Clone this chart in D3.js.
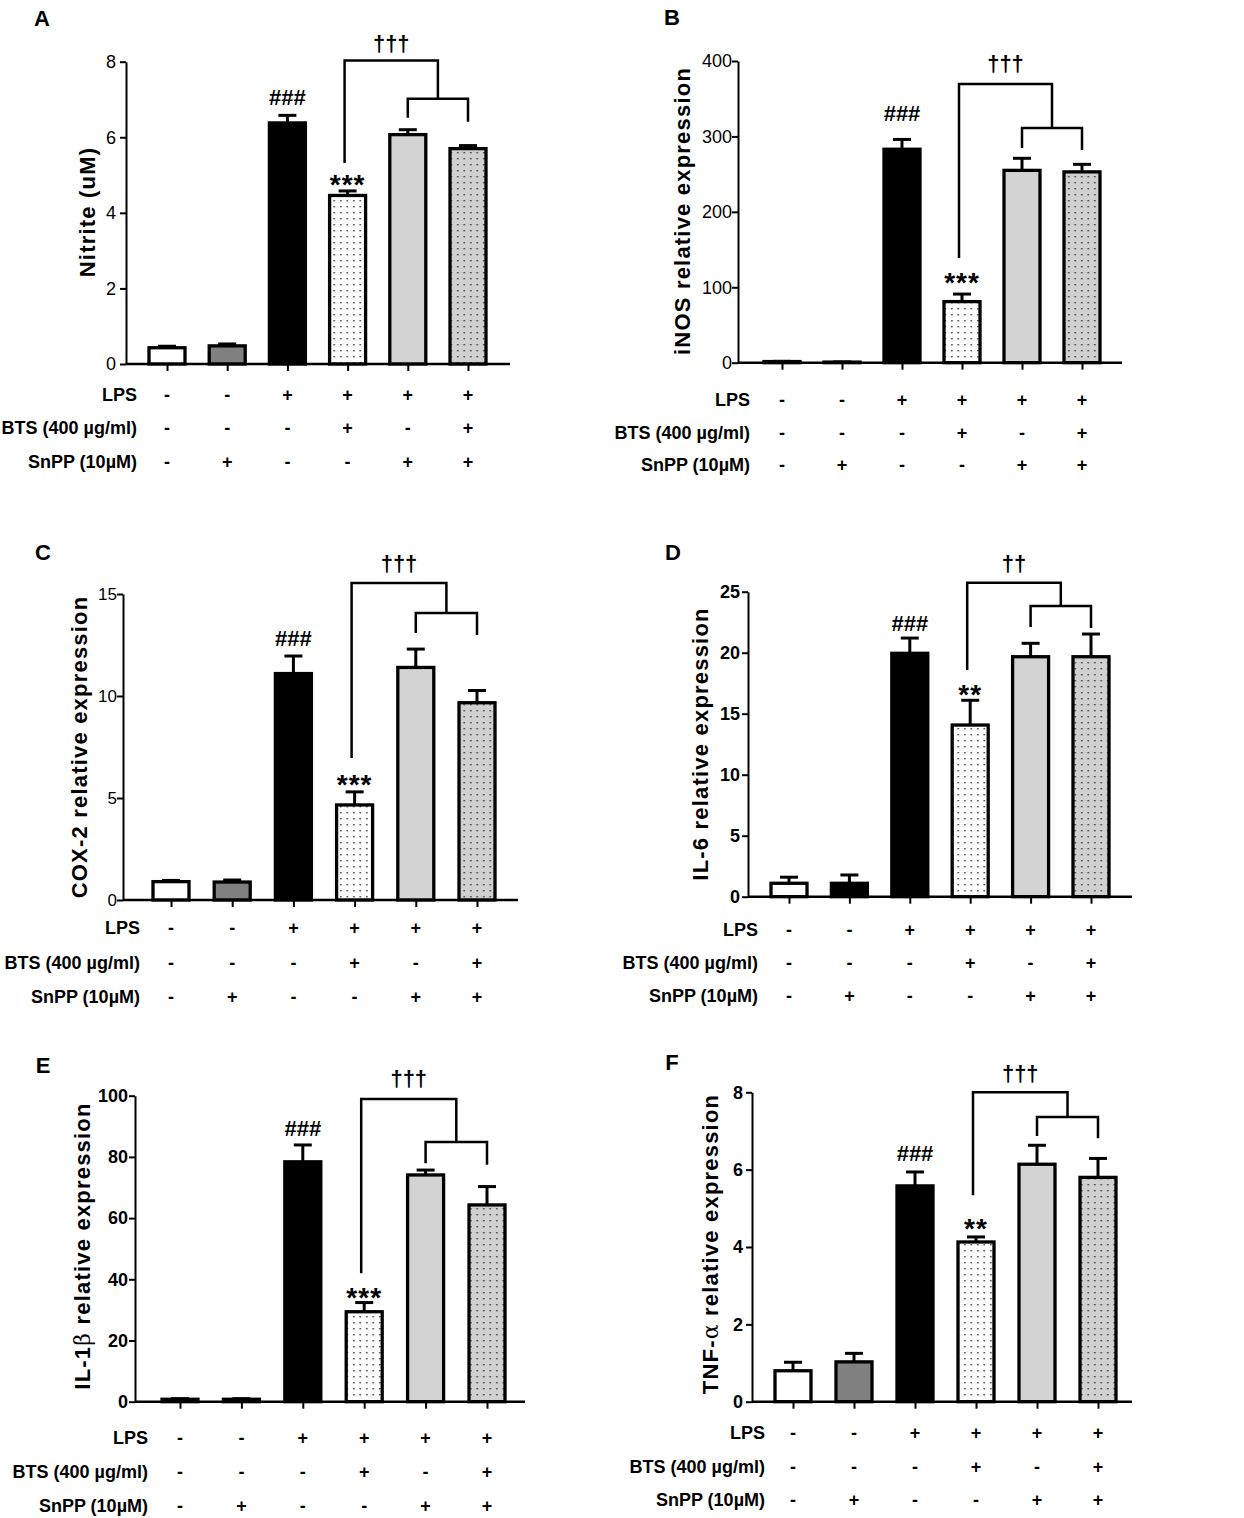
<!DOCTYPE html>
<html>
<head>
<meta charset="utf-8">
<script src="https://cdn.jsdelivr.net/npm/d3@7"></script>
<style>
  body { margin: 0; background: #fff; }
  text { font-family: "Liberation Sans", Arial, sans-serif; fill: #000; }
  .row { font-weight: bold; font-size: 18px; }
</style>
</head>
<body>
<div class="chart"></div>
<script>
// treatment groups (one bar each)
var groups = ["Control", "SnPP", "LPS", "LPS+BTS", "LPS+SnPP", "LPS+BTS+SnPP"];
var rowLabels = ["LPS", "BTS (400 µg/ml)", "SnPP (10µM)"];
var lpsRow = ["-", "-", "+", "+", "+", "+"];
var btsRow = ["-", "-", "-", "+", "-", "+"];
var snppRow = ["-", "+", "-", "-", "+", "+"];

// means and SEM
var nitriteMean = [0.43, 0.48, 6.38, 4.46, 6.07, 5.70];
var nitriteSem = [0.04, 0.05, 0.20, 0.12, 0.13, 0.08];
var inosMean = [1.5, 0.8, 283, 81, 255, 253];
var inosSem = [0.3, 0.2, 13, 10, 16, 10];
var cox2Mean = [0.90, 0.88, 11.1, 4.66, 11.4, 9.67];
var cox2Sem = [0.06, 0.10, 0.86, 0.64, 0.90, 0.60];
var il6Mean = [1.1, 1.1, 19.95, 14.07, 19.67, 19.67];
var il6Sem = [0.5, 0.68, 1.25, 2.03, 1.10, 1.86];
var il1bMean = [0.8, 0.8, 78.4, 29.4, 74.1, 64.3];
var il1bSem = [0.2, 0.2, 5.5, 3.0, 1.6, 6.0];
var tnfMean = [0.80, 1.03, 5.58, 4.13, 6.14, 5.80];
var tnfSem = [0.22, 0.22, 0.36, 0.13, 0.49, 0.49];

// y ticks
var nitriteTicks = [0, 2, 4, 6, 8];
var inosTicks = [0, 100, 200, 300, 400];
var cox2Ticks = [0, 5, 10, 15];
var il6Ticks = [0, 5, 10, 15, 20, 25];
var il1bTicks = [0, 20, 40, 60, 80, 100];
var tnfTicks = [0, 2, 4, 6, 8];

// significance marks: [outer top, inner top, left leg end, inner left end, inner right end, dagger y, hash y, star y] (data units)
var nitriteSig = [8.03, 7.02, 5.32, 6.52, 6.41, 8.50, 7.05, 4.95];
var inosSig = [369.6, 311.3, 138.9, 284.7, 282.1, 397.5, 331.2, 116.3];
var cox2Sig = [15.54, 14.07, 6.96, 13.09, 12.99, 16.52, 12.84, 6.03];
var il6Sig = [25.74, 23.83, 18.58, 22.11, 22.02, 27.35, 22.43, 17.19];
var il1bSig = [98.9, 84.9, 42.0, 77.9, 77.4, 105.8, 89.4, 36.5];
var tnfSig = [8.0, 7.36, 5.34, 6.87, 6.81, 8.49, 6.42, 4.69];

var panels = [
  { letter: "A", label: ["Nitrite (uM)"], mean: nitriteMean, sem: nitriteSem, ticks: nitriteTicks, sig: nitriteSig, stars: "***", daggers: "†††", boldTicks: false,
    L: { ox: 126, y0: 364, yTop: 61.7, xEnd: 510, c0: 167, c5: 468, lx: 42, ly: 18, yx: 87, yy: 212, rr: 137, rows: [395, 428, 462], pad: 4, tf: 18 } },
  { letter: "B", label: ["iNOS relative expression"], mean: inosMean, sem: inosSem, ticks: inosTicks, sig: inosSig, stars: "***", daggers: "†††", boldTicks: false,
    L: { ox: 738, y0: 362.7, yTop: 61, xEnd: 1122, c0: 782, c5: 1082, lx: 672, ly: 17, yx: 682, yy: 211, rr: 750, rows: [400, 433, 465], pad: 0, tf: 18 } },
  { letter: "C", label: ["COX-2 relative expression"], mean: cox2Mean, sem: cox2Sem, ticks: cox2Ticks, sig: cox2Sig, stars: "***", daggers: "†††", boldTicks: false,
    L: { ox: 123, y0: 900, yTop: 594, xEnd: 518, c0: 171, c5: 477, lx: 43, ly: 552, yx: 79, yy: 747, rr: 140, rows: [928, 963, 997], pad: 0, tf: 17 } },
  { letter: "D", label: ["IL-6 relative expression"], mean: il6Mean, sem: il6Sem, ticks: il6Ticks, sig: il6Sig, stars: "**", daggers: "††", boldTicks: true, darkSecond: true,
    L: { ox: 748, y0: 896.7, yTop: 591.7, xEnd: 1132, c0: 789, c5: 1091, lx: 673, ly: 552, yx: 700, yy: 744, rr: 758, rows: [930, 963, 996], pad: 2, tf: 18 } },
  { letter: "E", label: ["IL-1", "β", " relative expression"], mean: il1bMean, sem: il1bSem, ticks: il1bTicks, sig: il1bSig, stars: "***", daggers: "†††", boldTicks: true,
    L: { ox: 135, y0: 1401.7, yTop: 1095.7, xEnd: 525, c0: 180, c5: 487, lx: 43, ly: 1065, yx: 82, yy: 1246, rr: 148, rows: [1438, 1472, 1506], pad: 1, tf: 18 } },
  { letter: "F", label: ["TNF-", "α", " relative expression"], mean: tnfMean, sem: tnfSem, ticks: tnfTicks, sig: tnfSig, stars: "**", daggers: "†††", boldTicks: true,
    L: { ox: 752, y0: 1401.7, yTop: 1092.3, xEnd: 1132, c0: 793, c5: 1098, lx: 672, ly: 1062, yx: 710, yy: 1244, rr: 765, rows: [1433, 1467, 1500], pad: 3, tf: 18 } }
];

var barW = 36;

var svg = d3.select(".chart")
  .append("svg")
  .attr("width", 1244)
  .attr("height", 1518)
  .style("display", "block");

svg.append("rect").attr("width", 1244).attr("height", 1518).attr("fill", "#fff");

// dotted fills
var defs = svg.append("defs");
[["dotsWhite", "#ffffff"], ["dotsGray", "#d0d0d0"]].forEach(function (p) {
  var pat = defs.append("pattern")
    .attr("id", p[0])
    .attr("patternUnits", "userSpaceOnUse")
    .attr("width", 6.5)
    .attr("height", 6);
  pat.append("rect").attr("width", 6.5).attr("height", 6).attr("fill", p[1]);
  pat.append("rect").attr("x", 2).attr("y", 2).attr("width", 1.6).attr("height", 1.4).attr("fill", "#444");
});

var fills = ["#ffffff", "#808080", "#000000", "url(#dotsWhite)", "#d3d3d3", "url(#dotsGray)"];

panels.forEach(drawPanel);

function drawPanel(p) {
  var L = p.L;
  var g = svg.append("g");

  var y = d3.scaleLinear()
    .domain([0, p.ticks[p.ticks.length - 1]])
    .range([L.y0, L.yTop]);
  var x = d3.scalePoint()
    .domain(groups)
    .range([L.c0, L.c5]);

  // panel letter
  g.append("text")
    .attr("x", L.lx).attr("y", L.ly).attr("dy", "0.35em")
    .attr("text-anchor", "middle")
    .style("font-size", "22px").style("font-weight", "bold")
    .text(p.letter);

  // y axis
  var yAxis = g.append("g")
    .attr("transform", "translate(" + L.ox + ",0)")
    .call(d3.axisLeft(y).tickValues(p.ticks).tickSize(6).tickSizeOuter(0).tickPadding(L.pad));
  yAxis.select(".domain").attr("stroke-width", 2);
  yAxis.selectAll(".tick line").attr("stroke-width", 2);
  yAxis.selectAll(".tick text")
    .style("font-size", L.tf + "px")
    .style("font-family", "'Liberation Sans', Arial, sans-serif")
    .style("font-weight", p.boldTicks ? "bold" : "normal");

  // y label
  var yl = g.append("text")
    .attr("transform", "translate(" + L.yx + "," + L.yy + ") rotate(-90)")
    .attr("dy", "0.35em")
    .attr("text-anchor", "middle")
    .style("font-size", "22px").style("font-weight", "bold")
    .style("letter-spacing", "1.2px");
  p.label.forEach(function (s, i) {
    var t = yl.append("tspan").text(s);
    if (i === 1) t.style("font-family", "'DejaVu Serif', 'Liberation Serif', serif").style("font-weight", "normal");
  });

  // bars
  g.selectAll("rect.bar")
    .data(groups)
    .join("rect")
    .attr("class", "bar")
    .attr("x", function (d) { return x(d) - barW / 2; })
    .attr("y", function (d, i) { return y(p.mean[i]); })
    .attr("width", barW)
    .attr("height", function (d, i) { return y(0) - y(p.mean[i]); })
    .attr("fill", function (d, i) { return (i === 1 && p.darkSecond) ? "#000" : fills[i]; })
    .attr("stroke", "#000")
    .attr("stroke-width", 3.3);

  // error bars (upper only)
  var err = g.selectAll("g.err").data(groups).join("g").attr("class", "err");
  err.append("line")
    .attr("x1", function (d) { return x(d); })
    .attr("x2", function (d) { return x(d); })
    .attr("y1", function (d, i) { return y(p.mean[i]); })
    .attr("y2", function (d, i) { return y(p.mean[i] + p.sem[i]); })
    .attr("stroke", "#000").attr("stroke-width", 3);
  err.append("line")
    .attr("x1", function (d) { return x(d) - 9; })
    .attr("x2", function (d) { return x(d) + 9; })
    .attr("y1", function (d, i) { return y(p.mean[i] + p.sem[i]); })
    .attr("y2", function (d, i) { return y(p.mean[i] + p.sem[i]); })
    .attr("stroke", "#000").attr("stroke-width", 3);

  // x axis line and ticks
  g.append("line")
    .attr("x1", L.ox).attr("x2", L.xEnd)
    .attr("y1", L.y0).attr("y2", L.y0)
    .attr("stroke", "#000").attr("stroke-width", 2.5);
  var xAxis = g.append("g")
    .attr("transform", "translate(0," + L.y0 + ")")
    .call(d3.axisBottom(x).tickSize(7).tickFormat(""));
  xAxis.select(".domain").remove();
  xAxis.selectAll(".tick line").attr("stroke-width", 2);

  // treatment rows
  [lpsRow, btsRow, snppRow].forEach(function (row, r) {
    g.append("text")
      .attr("class", "row")
      .attr("x", L.rr).attr("y", L.rows[r]).attr("dy", "0.35em")
      .attr("text-anchor", "end")
      .text(rowLabels[r]);
    g.selectAll("text.sym" + r)
      .data(row)
      .join("text")
      .attr("class", "row sym" + r)
      .attr("x", function (d, i) { return x(groups[i]); })
      .attr("y", L.rows[r]).attr("dy", "0.35em")
      .attr("text-anchor", "middle")
      .text(function (d) { return d; });
  });

  // significance
  var s = p.sig;
  var xl = x(groups[3]) - 3;
  var xi1 = x(groups[4]), xi2 = x(groups[5]);
  var xm = (xi1 + xi2) / 2;
  var path = d3.path();
  path.moveTo(xl, y(s[2]));
  path.lineTo(xl, y(s[0]));
  path.lineTo(xm, y(s[0]));
  path.lineTo(xm, y(s[1]));
  path.moveTo(xi1, y(s[3]));
  path.lineTo(xi1, y(s[1]));
  path.lineTo(xi2, y(s[1]));
  path.lineTo(xi2, y(s[4]));
  g.append("path")
    .attr("d", path.toString())
    .attr("fill", "none").attr("stroke", "#000").attr("stroke-width", 2.5);

  g.append("text")
    .attr("x", (xl + xm) / 2).attr("y", y(s[5])).attr("dy", "0.35em")
    .attr("text-anchor", "middle")
    .style("font-size", "22px").style("font-weight", "bold")
    .text(p.daggers);
  g.append("text")
    .attr("x", x(groups[2])).attr("y", y(s[6])).attr("dy", "0.35em")
    .attr("text-anchor", "middle")
    .style("font-size", "22px").style("font-weight", "bold")
    .text("###");
  g.append("text")
    .attr("x", x(groups[3])).attr("y", y(s[7])).attr("dy", "0.62em")
    .attr("text-anchor", "middle")
    .style("font-size", "28px").style("font-weight", "bold")
    .style("letter-spacing", "1px")
    .text(p.stars);
}
</script>
</body>
</html>
